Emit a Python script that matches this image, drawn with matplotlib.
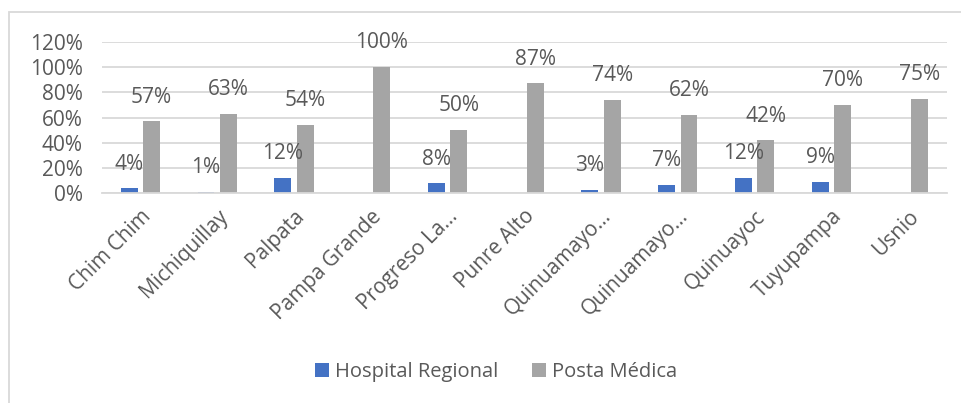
import matplotlib
matplotlib.use('Agg')
from matplotlib import pyplot as plt
from matplotlib.patches import Rectangle
import numpy as np

plt.rcParams['font.family'] = ['Open Sans', 'DejaVu Sans']

# datos
lugares = ['Chim Chim', 'Michiquillay', 'Palpata', 'Pampa Grande', 'Progreso La…',
           'Punre Alto', 'Quinuamayo…', 'Quinuamayo…', 'Quinuayoc', 'Tuyupampa', 'Usnio']
hospital = [4, 1, 12, 0, 8, 0, 3, 7, 12, 9, 0]
posta = [57, 63, 54, 100, 50, 87, 74, 62, 42, 70, 75]
series = ['Hospital Regional', 'Posta Médica']
colores = ['#4472C4', '#A5A5A5']
texto = '#595959'

fig = plt.figure(figsize=(9.62, 4.03), dpi=100)
ax = fig.add_axes([0.106, 0.52, 0.878, 0.3765])

x = np.arange(len(lugares))
w = 0.22
b1 = ax.bar(x - 0.145, hospital, w, color=colores[0], label=series[0], zorder=3)
b2 = ax.bar(x + 0.145, posta, w, color=colores[1], label=series[1], zorder=3)

# etiquetas de datos
for barras, vals in ((b1, hospital), (b2, posta)):
    for r, v in zip(barras, vals):
        if v == 0:
            continue
        ax.annotate('%d%%' % v, (r.get_x() + r.get_width() / 2, v),
                    xytext=(0, 17.5), textcoords='offset points',
                    ha='center', va='center', fontsize=15, color=texto)

ax.set_xlim(-0.5, len(lugares) - 0.5)
ax.set_ylim(0, 120)
ax.set_yticks(range(0, 121, 20))
ax.set_yticklabels(['%d%%' % t for t in range(0, 121, 20)])
ax.set_xticks(x)
ax.set_xticklabels(lugares, rotation=45, ha='right', rotation_mode='anchor')
ax.tick_params(axis='both', length=0, labelsize=15, labelcolor=texto)
ax.tick_params(axis='y', pad=14)
ax.tick_params(axis='x', pad=9)
ax.grid(axis='y', color='#D9D9D9', linewidth=1.3, zorder=0)
for s in ['top', 'right', 'left']:
    ax.spines[s].set_visible(False)
ax.spines['bottom'].set_color('#D9D9D9')
ax.spines['bottom'].set_linewidth(1.3)
ax.spines['bottom'].set_zorder(4)

# marco del grafico
fig.patches.append(Rectangle((8.5 / 962, -0.2), 1.2, 1.2 - 12 / 403, transform=fig.transFigure,
                             fill=False, edgecolor='#D9D9D9', linewidth=1.3))

fig.legend(loc='center', bbox_to_anchor=(496 / 962, 1 - 372 / 403), ncol=2, frameon=False,
           fontsize=14.5, labelcolor=texto, handlelength=0.7, handleheight=0.7,
           handletextpad=0.3, columnspacing=1.65)

plt.savefig('out.png', dpi=100)
